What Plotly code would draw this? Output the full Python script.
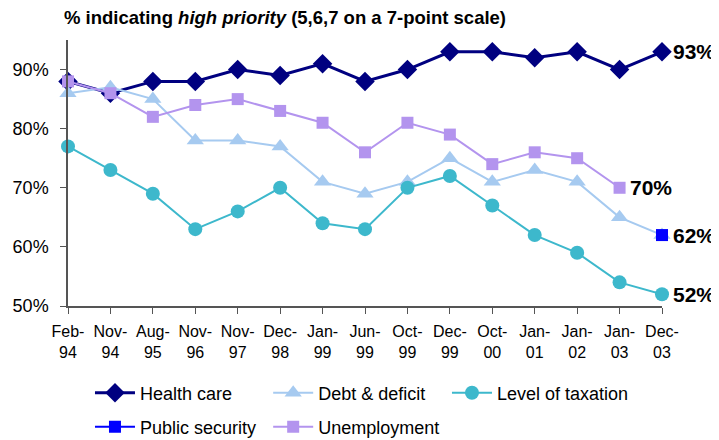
import plotly.graph_objects as go

categories = ["Feb-94", "Nov-94", "Aug-95", "Nov-96", "Nov-97", "Dec-98", "Jan-99", "Jun-99",
              "Oct-99", "Dec-99", "Oct-00", "Jan-01", "Jan-02", "Jan-03", "Dec-03"]
tick_labels = [c.replace("-", "-<br>") for c in categories]
y_ticks = [50, 60, 70, 80, 90]
y_tick_labels = [f"{v}%" for v in y_ticks]

health_care = [88, 86, 88, 88, 90, 89, 91, 88, 90, 93, 93, 92, 93, 90, 93]
debt_deficit = [86, 87, 85, 78, 78, 77, 71, 69, 71, 75, 71, 73, 71, 65, 62]
taxation = [77, 73, 69, 63, 66, 70, 64, 63, 70, 72, 67, 62, 59, 54, 52]
public_security = [None] * 14 + [62]
unemployment = [88, 86, 82, 84, 85, 83, 81, 76, 81, 79, 74, 76, 75, 70, None]

FONT = "Liberation Sans, Arial, sans-serif"

fig = go.Figure()
fig.add_trace(go.Scatter(x=categories, y=health_care, name="Health care", mode="lines+markers",
                         line=dict(color="#000080", width=3), legend="legend", cliponaxis=False,
                         marker=dict(symbol="diamond", size=15, color="#000080")))
fig.add_trace(go.Scatter(x=categories, y=debt_deficit, name="Debt & deficit", mode="lines+markers",
                         line=dict(color="#A6CAF0", width=2), legend="legend2", cliponaxis=False,
                         marker=dict(symbol="triangle-up", size=15, color="#A6CAF0")))
fig.add_trace(go.Scatter(x=categories, y=taxation, name="Level of taxation", mode="lines+markers",
                         line=dict(color="#3DB8CC", width=2), legend="legend3", cliponaxis=False,
                         marker=dict(symbol="circle", size=14, color="#3DB8CC")))
fig.add_trace(go.Scatter(x=categories, y=public_security, name="Public security", mode="lines+markers",
                         line=dict(color="#0000FF", width=2), legend="legend4", cliponaxis=False,
                         marker=dict(symbol="square", size=12, color="#0000FF")))
fig.add_trace(go.Scatter(x=categories, y=unemployment, name="Unemployment", mode="lines+markers",
                         line=dict(color="#B394EE", width=2), legend="legend5", cliponaxis=False,
                         marker=dict(symbol="square", size=12, color="#B394EE")))

end_labels = [(categories[14], health_care[14], 9), (categories[13], unemployment[13], 8),
              (categories[14], public_security[14], 9), (categories[14], taxation[14], 9)]
for xc, yv, xs in end_labels:
    fig.add_annotation(x=xc, y=yv, text=f"<b>{yv}%</b>", showarrow=False, xanchor="left",
                       xshift=xs, font=dict(size=21, color="black", family=FONT))

legend_common = dict(orientation="h", xanchor="left", yanchor="middle",
                     font=dict(size=18, family=FONT), itemwidth=40,
                     bgcolor="rgba(0,0,0,0)")
row1, row2 = -0.327, -0.455
col1, col2, col3 = 0.037, 0.337, 0.638

fig.update_layout(
    width=711, height=432,
    margin=dict(l=60, r=57, t=32, b=134, autoexpand=False),
    paper_bgcolor="white", plot_bgcolor="white",
    font=dict(family=FONT, color="black"),
    title=dict(text="<b>% indicating <i>high priority</i> (5,6,7 on a 7-point scale)</b>",
               x=56 / 711, xref="container", xanchor="left", y=0.977, yanchor="middle",
               font=dict(size=18.5, family=FONT), pad=dict(l=0, r=0, t=0, b=0)),
    showlegend=True,
    legend=dict(x=col1, y=row1, **legend_common),
    legend2=dict(x=col2, y=row1, **legend_common),
    legend3=dict(x=col3, y=row1, **legend_common),
    legend4=dict(x=col1, y=row2, **legend_common),
    legend5=dict(x=col2, y=row2, **legend_common),
)
fig.update_xaxes(type="category", range=[0, 14], tickvals=categories, ticktext=tick_labels,
                 showline=True, linecolor="#555555", linewidth=1.5, ticks="outside", ticklen=6,
                 tickcolor="#555555", showgrid=False, tickfont=dict(size=16, family=FONT),
                 ticklabelstandoff=4, automargin=False)
fig.update_yaxes(range=[50, 95], tickvals=y_ticks, ticktext=y_tick_labels,
                 showline=True, linecolor="#555555", linewidth=1.5, ticks="outside", ticklen=6,
                 tickcolor="#555555", showgrid=False, zeroline=False, ticklabelstandoff=8,
                 tickfont=dict(size=18, family=FONT), automargin=False)

fig.write_html("out.html")
